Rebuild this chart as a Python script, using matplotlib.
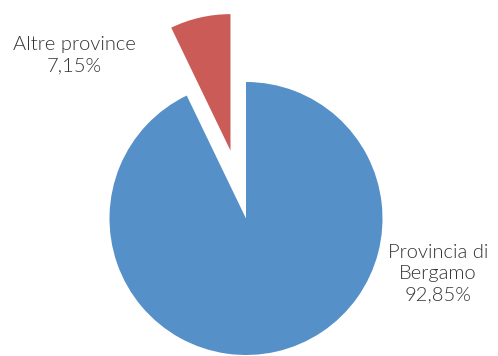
import matplotlib.pyplot as plt

labels = ["Provincia di\nBergamo\n92,85%", "Altre province\n7,15%"]
shares = [92.85, 7.15]
colors = ["#5590C9", "#CB5B56"]

fig = plt.figure(figsize=(4.98, 3.56), dpi=100)
ax = fig.add_axes([0, 0, 1, 1])

# work in pixel units so the layout matches the reference
r = 136.5
cx, cy = 246, 356 - 218.5
ax.pie(shares, colors=colors, startangle=90, counterclock=False,
       radius=r, center=(cx, cy), explode=[0, 0.51 * r],
       wedgeprops=dict(linewidth=0))

ax.set_xlim(0, 498)
ax.set_ylim(0, 356)
ax.set_aspect("equal")
ax.axis("off")

font = dict(family="Lato", fontweight=300, fontsize=14.5, color="#333333",
            ha="center", va="center", linespacing=1.3)
ax.text(438, 356 - 274, labels[0], **font)
ax.text(74, 356 - 55, labels[1], **font)

fig.savefig("out.png", dpi=100)
